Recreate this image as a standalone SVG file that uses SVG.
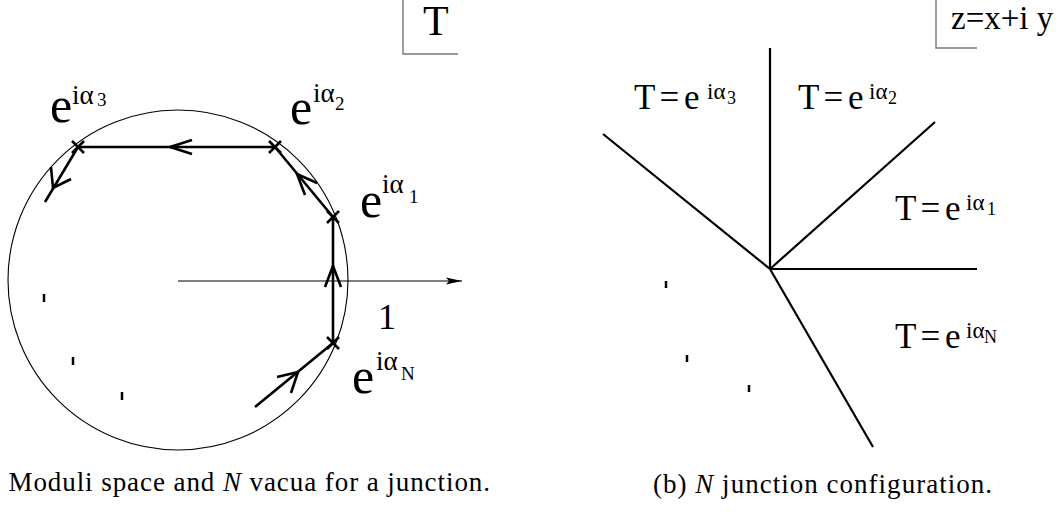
<svg xmlns="http://www.w3.org/2000/svg" width="1058" height="512" viewBox="0 0 1058 512">
<style>
  .frame { stroke: #777; stroke-width: 1.4; fill: none; }
  .path { stroke: #000; stroke-width: 2.6; fill: none; stroke-linecap: butt; }
  .thin { stroke: #000; stroke-width: 1.1; fill: none; }
  .ray { stroke: #000; stroke-width: 2.2; fill: none; }
  .tick { stroke: #000; stroke-width: 2.5; fill: none; }
  .lbl { font-family: 'Liberation Serif', serif; fill: #000; }
  .cap { font-family: 'Liberation Serif', serif; font-size: 27px; fill: #000; }
  .big { font-size: 50px; }
  .supL { font-size: 27px; }
  .subL { font-size: 19px; }
  .mid { font-size: 35px; }
  .supR { font-size: 23px; }
  .subR { font-size: 18px; }
</style>
<defs>
  <marker id="arr" viewBox="0 0 16 8" refX="16" refY="4" markerWidth="16" markerHeight="8" markerUnits="userSpaceOnUse" orient="auto">
    <path d="M0,0.5 L16,4 L0,7.5 L3,4 Z" fill="#000"/>
  </marker>
</defs>

<g id="frameT">
  <path class="frame" d="M403,0 V54 H458"/>
  <text class="lbl" x="423" y="35" style="font-size:42px">T</text>
</g>

<g id="circle">
  <circle class="thin" cx="178" cy="280" r="170"/>
</g>

<g id="axis">
  <line class="thin" x1="178" y1="281" x2="462" y2="281" marker-end="url(#arr)"/>
  <text class="lbl" x="378" y="329" style="font-size:36px">1</text>
</g>

<g id="connectors">
  <line class="path" x1="255" y1="407" x2="333" y2="343"/>
  <line class="path" x1="333" y1="343" x2="333" y2="217"/>
  <line class="path" x1="333" y1="217" x2="275" y2="147"/>
  <line class="path" x1="275" y1="147" x2="78" y2="147"/>
  <line class="path" x1="78" y1="147" x2="45" y2="202"/>
  <polyline class="path" points="192,140 170,147 192,154"/>
  <polyline class="path" points="317,183 297,174 305,195"/>
  <polyline class="path" points="325,287 333,266 341,287"/>
  <polyline class="path" points="277,377 298,372 291,393"/>
  <polyline class="path" points="71,179 53,188 51,167"/>
  <path class="path" d="M72,141 L84,153 M84,141 L72,153"/>
  <path class="path" d="M269,141 L281,153 M281,141 L269,153"/>
  <path class="path" d="M327,211 L339,223 M339,211 L327,223"/>
  <path class="path" d="M327,337 L339,349 M339,337 L327,349"/>
</g>

<g id="ticksL">
  <line class="tick" x1="44" y1="294" x2="44" y2="302"/>
  <line class="tick" x1="73" y1="357" x2="73" y2="365"/>
  <line class="tick" x1="122" y1="392" x2="122" y2="400"/>
</g>

<g id="vac3">
  <text class="lbl"><tspan class="big" x="50" y="122">e</tspan><tspan class="supL" x="72" y="104">iα</tspan><tspan class="subL" x="97" y="106">3</tspan></text>
</g>
<g id="vac2">
  <text class="lbl"><tspan class="big" x="290" y="124">e</tspan><tspan class="supL" x="313" y="102">iα</tspan><tspan class="subL" x="335" y="110">2</tspan></text>
</g>
<g id="vac1">
  <text class="lbl"><tspan class="big" x="360" y="217">e</tspan><tspan class="supL" x="382" y="193">iα</tspan><tspan class="subL" x="409" y="203">1</tspan></text>
</g>
<g id="vacN">
  <text class="lbl"><tspan class="big" x="352" y="393">e</tspan><tspan class="supL" x="376" y="370">iα</tspan><tspan class="subL" x="401" y="380">N</tspan></text>
</g>

<text class="cap" x="-32" y="491" textLength="522" lengthAdjust="spacing">(a) Moduli space and <tspan font-style="italic">N</tspan> vacua for a junction.</text>

<g id="frameZ">
  <path class="frame" d="M936,0 V48 H977"/>
  <text class="lbl" x="951" y="29" style="font-size:33px">z=x+i y</text>
</g>

<g id="rays">
  <line class="ray" x1="770" y1="269" x2="770" y2="48"/>
  <line class="ray" x1="770" y1="269" x2="935" y2="122"/>
  <line class="ray" x1="770" y1="269" x2="603" y2="134"/>
  <line class="ray" x1="770" y1="269" x2="977" y2="269"/>
  <line class="ray" x1="770" y1="269" x2="873" y2="447"/>
</g>

<g id="ticksR">
  <line class="tick" x1="666" y1="281" x2="666" y2="288"/>
  <line class="tick" x1="687" y1="355" x2="687" y2="362"/>
  <line class="tick" x1="749" y1="385" x2="749" y2="392"/>
</g>

<g id="region3">
  <text class="lbl"><tspan class="mid" x="634" y="109" word-spacing="-4">T = e</tspan><tspan class="supR" x="707" y="99">iα</tspan><tspan class="subR" x="727" y="104">3</tspan></text>
</g>
<g id="region2">
  <text class="lbl"><tspan class="mid" x="798" y="109" word-spacing="-4">T = e</tspan><tspan class="supR" x="869" y="99">iα</tspan><tspan class="subR" x="888" y="104">2</tspan></text>
</g>
<g id="region1">
  <text class="lbl"><tspan class="mid" x="895" y="220" word-spacing="-4">T = e</tspan><tspan class="supR" x="966" y="210">iα</tspan><tspan class="subR" x="987" y="215">1</tspan></text>
</g>
<g id="regionN">
  <text class="lbl"><tspan class="mid" x="895" y="348" word-spacing="-4">T = e</tspan><tspan class="supR" x="966" y="338">iα</tspan><tspan class="subR" x="984" y="343">N</tspan></text>
</g>

<text class="cap" x="653" y="493" textLength="339" lengthAdjust="spacing">(b) <tspan font-style="italic">N</tspan> junction configuration.</text>
</svg>
